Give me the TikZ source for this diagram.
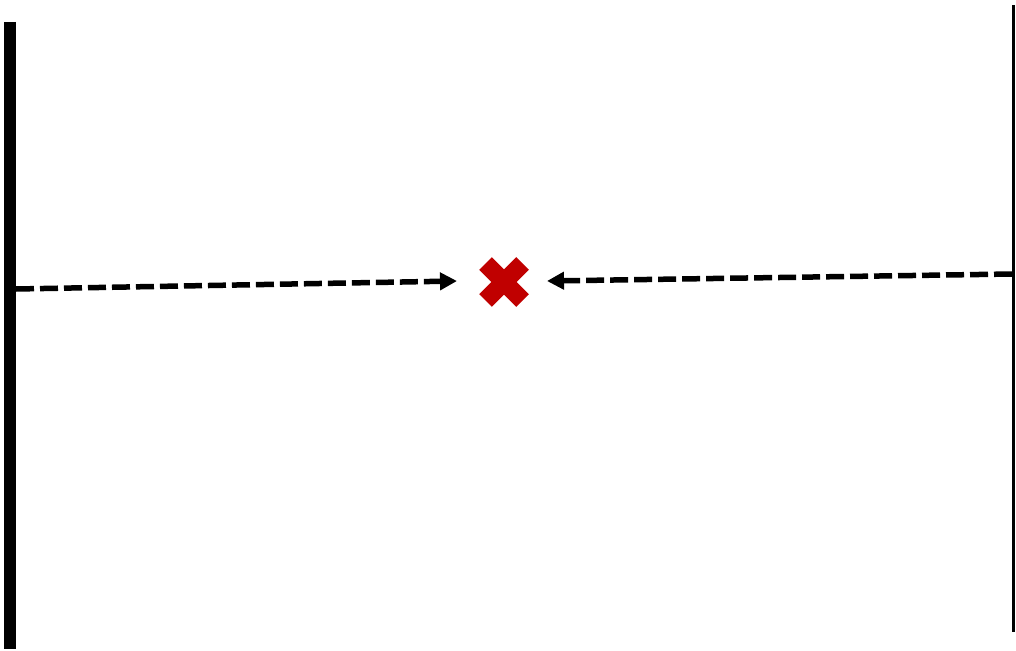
\documentclass[tikz,border=0pt]{standalone}
\usepackage{tikz}
\usetikzlibrary{arrows.meta, positioning}

\tikzset{
  wall/.style={line width=#1, line cap=butt},
  signal/.style={line width=5.5pt, dash pattern=on 18pt off 6pt,
    -{Triangle[length=17pt, width=17pt]}},
  crossarm/.style={line width=18pt, draw={rgb,255:red,192;green,0;blue,0}}
}

\begin{document}
\begin{tikzpicture}[x=1pt, y=-1pt]
        \useasboundingbox (0,0) rectangle (1016,650);

        % the two walls
        \coordinate (ltop) at (10,22);
        \coordinate (lbot) at (10,649);
        \coordinate (rtop) at (1013.7,5);
        \coordinate (rbot) at (1013.7,632);

        % collision point
        \coordinate (hit) at (504,282);
        \coordinate (hitA) at (485.5,263.5);
        \coordinate (hitB) at (522.5,300.5);
        \coordinate (hitC) at (522.5,263.5);
        \coordinate (hitD) at (485.5,300.5);

        % signal ends
        \coordinate (lsrc) at (16,289);
        \coordinate (ltip) at (457,281);
        \coordinate (rsrc) at (1012,274);
        \coordinate (rtip) at (547,281);

        \draw[wall=12pt] (ltop) -- (lbot);
        \draw[wall=2.8pt] (rtop) -- (rbot);

        \draw[signal] (lsrc) -- (ltip);
        \draw[signal] (rsrc) -- (rtip);

        \draw[crossarm] (hitA) -- (hitB);
        \draw[crossarm] (hitC) -- (hitD);
\end{tikzpicture}
\end{document}
